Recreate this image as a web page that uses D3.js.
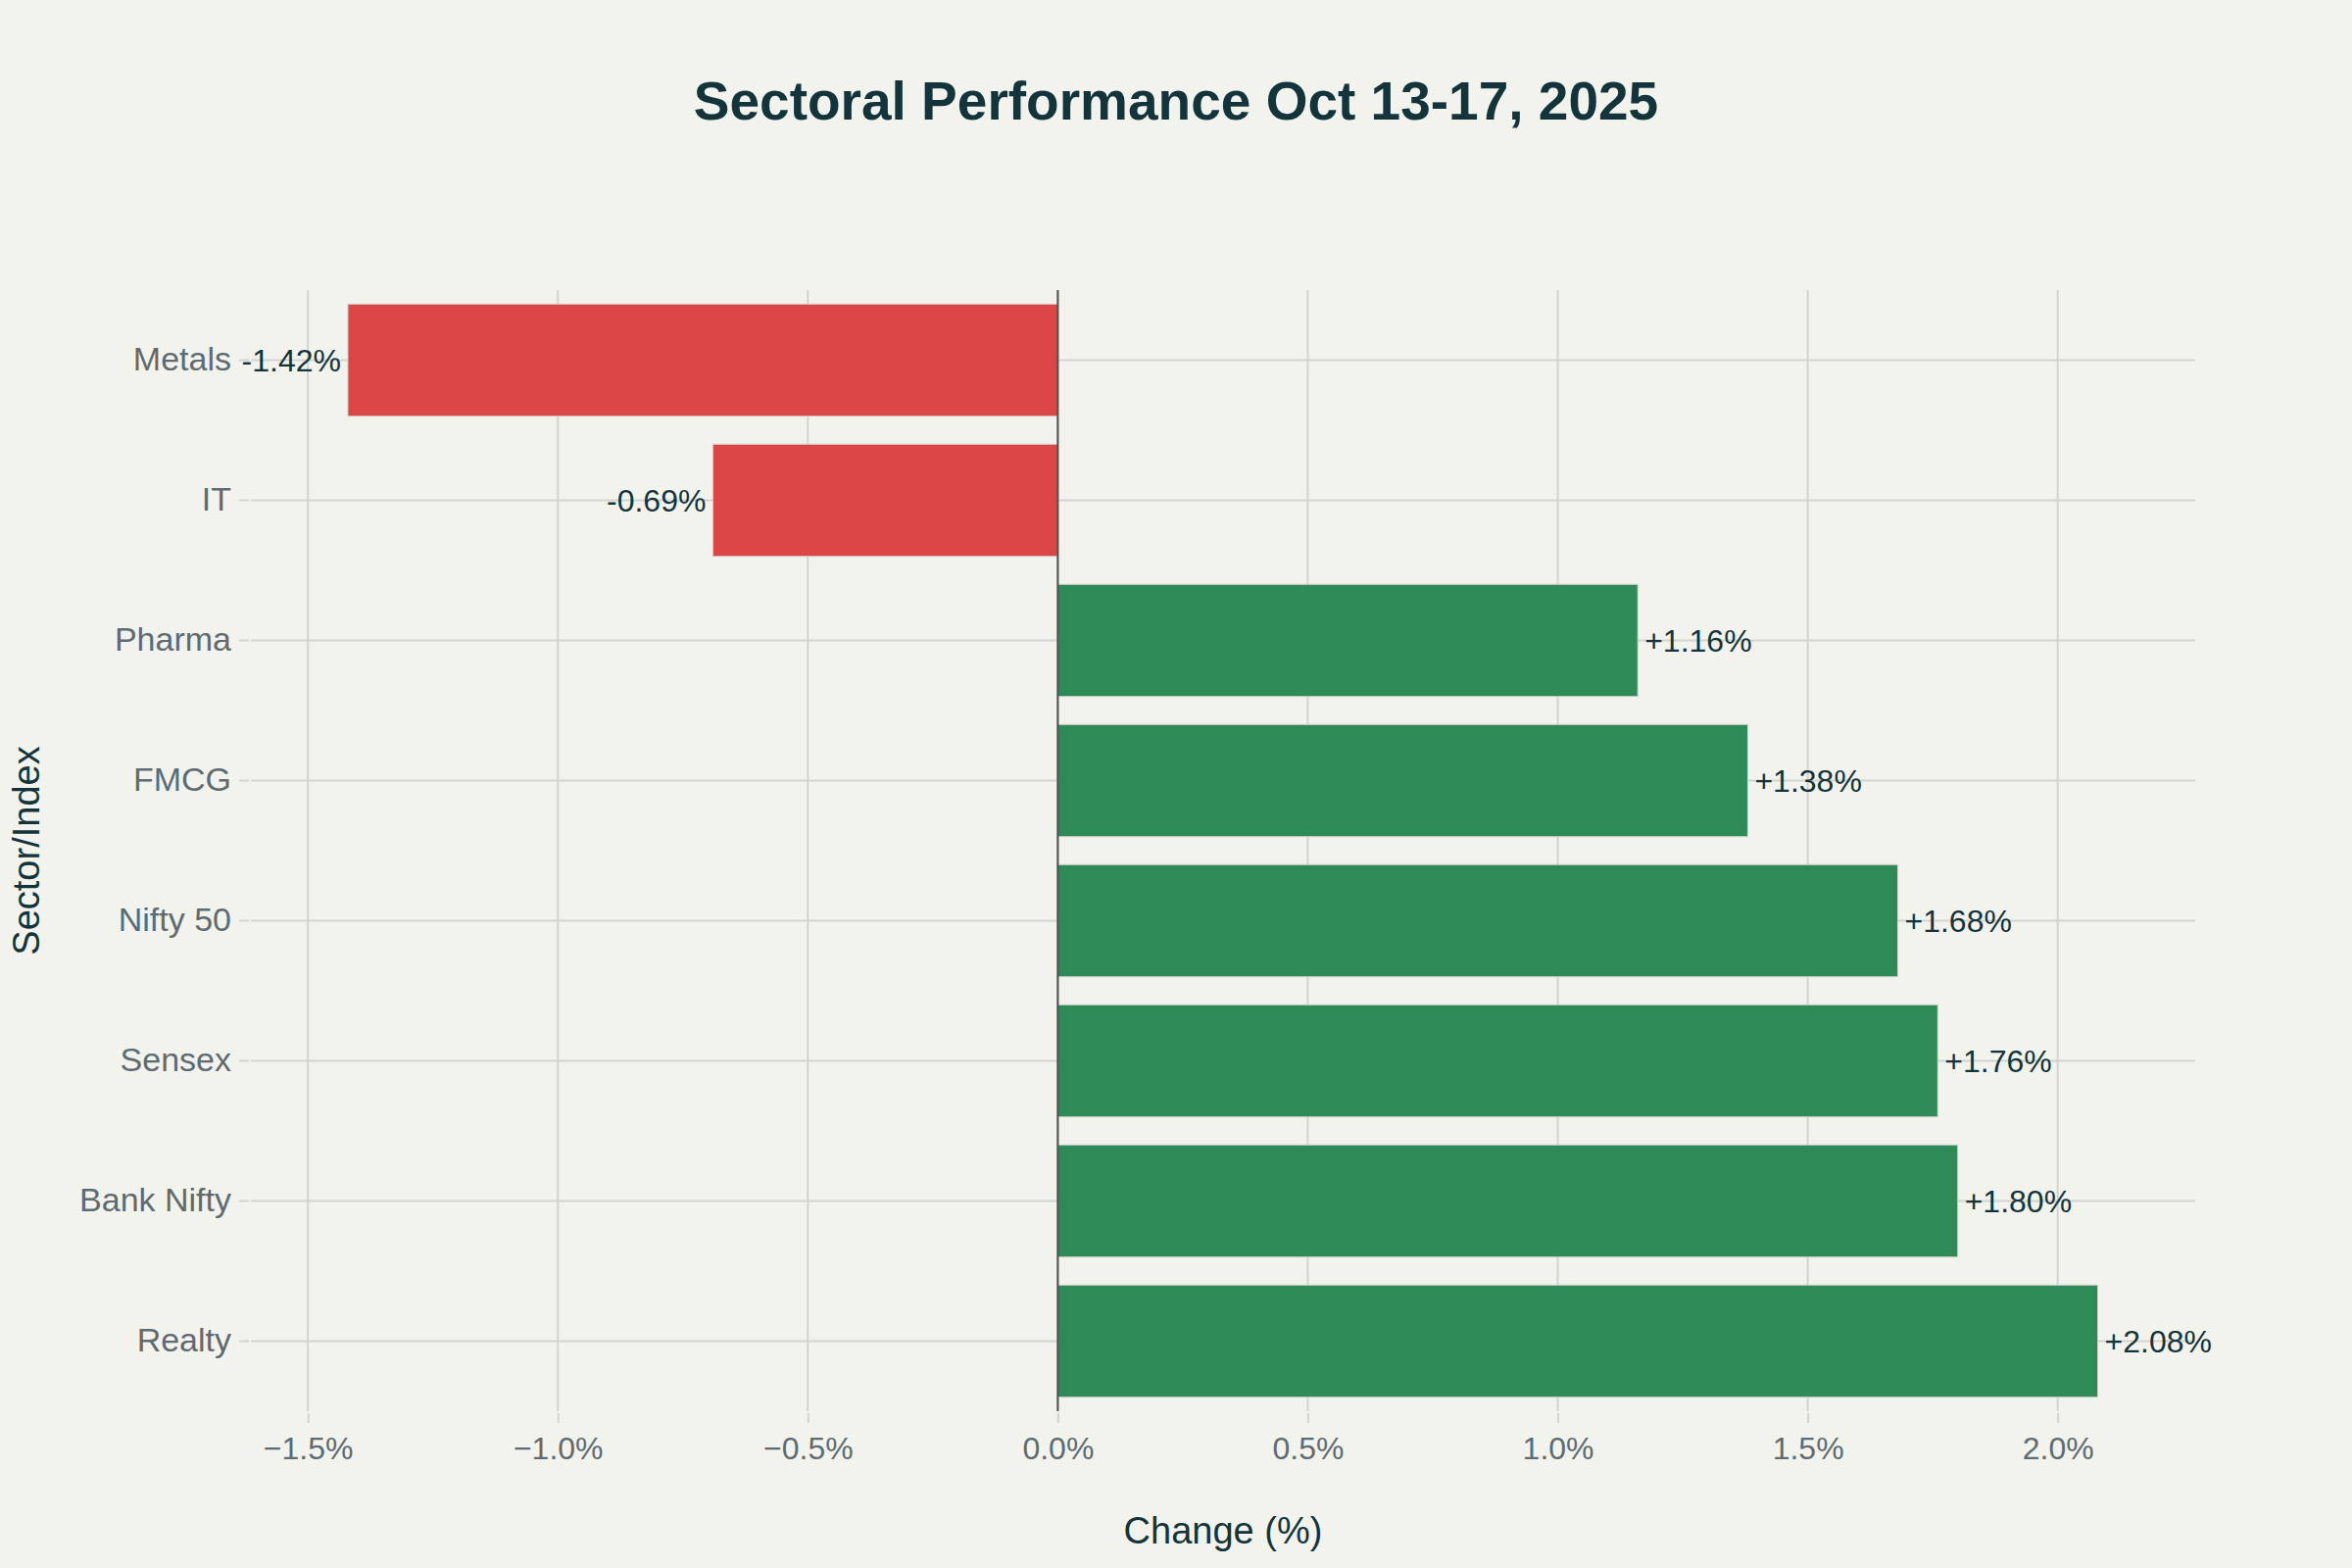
<!DOCTYPE html>
<html>
<head>
<meta charset="utf-8">
<script src="https://cdn.jsdelivr.net/npm/d3@7"></script>
<style>
  html, body { margin: 0; padding: 0; background: #F3F3EE; }
  svg { display: block; }
</style>
</head>
<body>
<div id="chart"></div>
<script>
// ---- Data ----
const sectors = ["Metals", "IT", "Pharma", "FMCG", "Nifty 50", "Sensex", "Bank Nifty", "Realty"];
const changes = [-1.42, -0.69, 1.16, 1.38, 1.68, 1.76, 1.80, 2.08];
const xTicks = [-1.5, -1.0, -0.5, 0.0, 0.5, 1.0, 1.5, 2.0];
const xRange = [-1.614, 2.275];
const titleText = "Sectoral Performance Oct 13-17, 2025";
const xTitle = "Change (%)";
const yTitle = "Sector/Index";

// ---- Layout ----
const W = 2400, H = 1600;
const plot = { left: 256, right: 2240, top: 296, bottom: 1440 };
const FONT = "'Liberation Sans', Arial, Helvetica, sans-serif";
const colors = { bg: "#F3F3EE", neg: "#DB4545", pos: "#2E8B57", grid: "#D4D4CF", zero: "#4F4F4F", title: "#13343B", tick: "#5E6B70" };

const svg = d3.select("#chart").append("svg")
  .attr("width", W).attr("height", H)
  .style("background", colors.bg);

const x = d3.scaleLinear().domain(xRange).range([plot.left, plot.right]);
const y = d3.scaleBand().domain(sectors).range([plot.top, plot.bottom]).paddingInner(0.2).paddingOuter(0.1);

// Gridlines vertical
svg.append("g").selectAll("line").data(xTicks).join("line")
  .attr("x1", d => x(d)).attr("x2", d => x(d))
  .attr("y1", plot.top).attr("y2", plot.bottom)
  .attr("stroke", colors.grid).attr("stroke-width", 2);

// Gridlines horizontal
svg.append("g").selectAll("line").data(sectors).join("line")
  .attr("x1", plot.left).attr("x2", plot.right)
  .attr("y1", d => y(d) + y.bandwidth() / 2).attr("y2", d => y(d) + y.bandwidth() / 2)
  .attr("stroke", colors.grid).attr("stroke-width", 2);

// X axis (ticks + labels)
const xAxis = d3.axisBottom(x).tickValues(xTicks)
  .tickFormat(d => (d < 0 ? "\u2212" : "") + Math.abs(d).toFixed(1) + "%")
  .tickSize(10).tickPadding(14);
const gx = svg.append("g").attr("transform", `translate(0,${plot.bottom + 2})`).call(xAxis);
gx.select(".domain").remove();
gx.selectAll(".tick line").attr("stroke", colors.grid).attr("stroke-width", 2);
gx.selectAll(".tick text").attr("fill", colors.tick).style("font-family", FONT).style("font-size", "32px");

// Y axis
const yAxis = d3.axisLeft(y).tickSize(10).tickPadding(8);
const gy = svg.append("g").attr("transform", `translate(${plot.left - 2},0)`).call(yAxis);
gy.select(".domain").remove();
gy.selectAll(".tick line").attr("stroke", colors.grid).attr("stroke-width", 2);
gy.selectAll(".tick text").attr("fill", colors.tick).style("font-family", FONT).style("font-size", "34px");

// Bars
const data = sectors.map((s, i) => ({ s, v: changes[i] }));
svg.append("g").selectAll("rect").data(data).join("rect")
  .attr("x", d => Math.min(x(0), x(d.v)))
  .attr("width", d => Math.abs(x(d.v) - x(0)))
  .attr("y", d => y(d.s))
  .attr("height", y.bandwidth())
  .attr("fill", d => d.v < 0 ? colors.neg : colors.pos)
  .attr("stroke", "#CFCFC8").attr("stroke-width", 1);

// Zero line
svg.append("line")
  .attr("x1", x(0)).attr("x2", x(0))
  .attr("y1", plot.top).attr("y2", plot.bottom)
  .attr("stroke", colors.zero).attr("stroke-width", 2);

// Value labels
svg.append("g").selectAll("text").data(data).join("text")
  .attr("x", d => d.v < 0 ? x(d.v) - 7 : x(d.v) + 7)
  .attr("y", d => y(d.s) + y.bandwidth() / 2)
  .attr("dy", "0.36em")
  .attr("text-anchor", d => d.v < 0 ? "end" : "start")
  .attr("fill", colors.title)
  .style("font-family", FONT).style("font-size", "32px")
  .text(d => (d.v > 0 ? "+" : "") + d.v.toFixed(2) + "%");

// Title
svg.append("text")
  .attr("x", W / 2).attr("y", 122)
  .attr("text-anchor", "middle")
  .attr("fill", colors.title)
  .style("font-family", FONT).style("font-size", "55px").style("font-weight", "bold")
  .text(titleText);

// X axis title
svg.append("text")
  .attr("x", (plot.left + plot.right) / 2).attr("y", 1575)
  .attr("text-anchor", "middle")
  .attr("fill", colors.title)
  .style("font-family", FONT).style("font-size", "38px")
  .text(xTitle);

// Y axis title
svg.append("text")
  .attr("transform", `translate(40,${(plot.top + plot.bottom) / 2}) rotate(-90)`)
  .attr("text-anchor", "middle")
  .attr("fill", colors.title)
  .style("font-family", FONT).style("font-size", "38px")
  .text(yTitle);
</script>
</body>
</html>
